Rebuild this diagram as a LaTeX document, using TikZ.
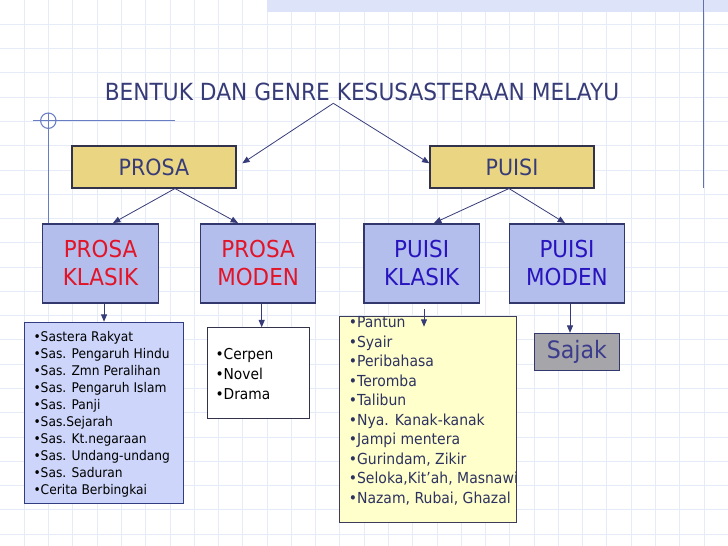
\documentclass[tikz,border=0pt]{standalone}
\usepackage{fontspec}
\setmainfont[FakeStretch=0.92]{DejaVu Sans}
\usetikzlibrary{arrows.meta}
\definecolor{gridc}{RGB}{230,235,248}
\definecolor{bandc}{RGB}{221,228,250}
\definecolor{decoc}{RGB}{105,125,195}
\definecolor{rightc}{RGB}{95,115,170}
\definecolor{titlec}{RGB}{55,60,120}
\definecolor{arrowc}{RGB}{55,60,120}
\definecolor{topfill}{RGB}{234,214,130}
\definecolor{topborder}{RGB}{50,50,75}
\definecolor{midfill}{RGB}{180,190,236}
\definecolor{midborder}{RGB}{50,55,110}
\definecolor{redc}{RGB}{225,20,40}
\definecolor{violetc}{RGB}{40,20,190}
\definecolor{kfill}{RGB}{205,214,250}
\definecolor{kborder}{RGB}{50,60,130}
\definecolor{yfill}{RGB}{255,255,204}
\definecolor{yborder}{RGB}{60,60,90}
\definecolor{ytext}{RGB}{45,50,95}
\definecolor{sfill}{RGB}{165,165,170}
\definecolor{stext}{RGB}{60,60,140}
\newlength\bind
\newcommand\bitem[1]{\hbox to\hsize{\hskip\bind •#1\hss}}
\newcommand\bfirst[2]{\hbox to\hsize{\hskip\bind\rule{0pt}{#1}•#2\hss}}
\begin{document}
\begin{tikzpicture}[x=0.75pt,y=-0.75pt,
  conn/.style={draw=arrowc, line width=0.6pt, -{Triangle[length=5.5pt,width=4.5pt]}},
  topbox/.style={draw=topborder, fill=topfill, line width=0.8pt, minimum width=123pt, minimum height=31.5pt, inner sep=0pt, font=\fontsize{16.8}{20}\selectfont, text=titlec},
  midbox/.style={draw=midborder, fill=midfill, line width=0.8pt, minimum width=86.6pt, minimum height=59.25pt, inner sep=0pt, align=center, font=\fontsize{17.5}{21}\selectfont},
  listbox/.style={line width=0.8pt, inner sep=0pt, anchor=north west}]
\useasboundingbox (0,0) rectangle (728,546);
\fill[white] (0,0) rectangle (728,546);
% grid
\foreach \i in {1,...,29} \draw[gridc, line width=0.5pt] ({\i*24.27},0) -- ({\i*24.27},546);
\foreach \j in {1,...,22} \draw[gridc, line width=0.5pt] (0,{\j*24.27}) -- (728,{\j*24.27});
% decorations
\fill[bandc] (267,0) rectangle (728,11.7);
\draw[rightc, line width=0.8pt] (703.3,0) -- (703.3,188);
\draw[decoc, line width=0.8pt] (33.3,120.7) -- (175,120.7);
\draw[decoc, line width=0.8pt] (48.3,113) -- (48.3,224);
\draw[decoc, line width=0.8pt] (48.3,120.7) circle[radius=7.7];
% title
\node[text=titlec, font=\fontsize{17.7}{21}\selectfont, inner sep=0pt] (title) at (362,91.5) {BENTUK DAN GENRE KESUSASTERAAN MELAYU};
% top boxes
\node[topbox] (prosa) at (154,167) {PROSA};
\node[topbox] (puisi) at (512,167) {PUISI};
% middle boxes
\node[midbox, text=redc] (pk) at (100.5,263.5) {PROSA\\KLASIK};
\node[midbox, text=redc] (pm) at (258.1,263.5) {PROSA\\MODEN};
\node[midbox, text=violetc] (uk) at (421.7,263.5) {PUISI\\KLASIK};
\node[midbox, text=violetc] (um) at (567,263.5) {PUISI\\MODEN};
% lists
\node[listbox, draw=kborder, fill=kfill] (klist) at (24.3,321.7) {\parbox[c][136.2pt][t]{118.8pt}{\fontsize{10}{12.75}\selectfont\setlength\bind{6.5pt}%
\bfirst{14.5pt}{Sastera Rakyat}
\bitem{Sas. Pengaruh Hindu}
\bitem{Sas. Zmn Peralihan}
\bitem{Sas. Pengaruh Islam}
\bitem{Sas. Panji}
\bitem{Sas.Sejarah}
\bitem{Sas. Kt.negaraan}
\bitem{Sas. Undang-undang}
\bitem{Sas. Saduran}
\bitem{Cerita Berbingkai}}};
\node[listbox, draw=topborder, fill=white] (mlist) at (206.7,327.3) {\parbox[c][68.25pt][t]{77pt}{\fontsize{11.25}{14.7}\selectfont\setlength\bind{6.2pt}%
\bfirst{24.1pt}{Cerpen}
\bitem{Novel}
\bitem{Drama}}};
\node[listbox, draw=yborder, fill=yfill, text=ytext] (ulist) at (339.3,315.7) {\parbox[c][155pt][t]{132.5pt}{\fontsize{11.4}{14.6}\selectfont\setlength\bind{6.75pt}%
\bfirst{8.8pt}{Pantun}
\bitem{Syair}
\bitem{Peribahasa}
\bitem{Teromba}
\bitem{Talibun}
\bitem{Nya. Kanak-kanak}
\bitem{Jampi mentera}
\bitem{Gurindam, Zikir}
\bitem{Seloka,Kit’ah, Masnawi}
\bitem{Nazam, Rubai, Ghazal}}};
\node[draw=midborder, fill=sfill, text=stext, line width=0.8pt, minimum width=63.75pt, minimum height=28pt, inner sep=0pt, font=\fontsize{18}{21}\selectfont] (sajak) at (576.8,352) {Sajak};
% connector points
\coordinate (tOut) at (333.3,103.3);
\coordinate (prosaIn) at (242.3,163.3);
\coordinate (puisiIn) at (429.4,163.3);
\coordinate (xp) at (175,0);
\coordinate (xu) at (509,0);
\coordinate (pkIn) at (113,223);
\coordinate (pmIn) at (238,223);
\coordinate (ukIn) at (434,223);
\coordinate (umIn) at (565,223);
\coordinate (xm) at (261.7,0);
\coordinate (xs) at (570,0);
\coordinate (ukOut) at (424,309);
\coordinate (ukEnd) at (424,326.7);
% connectors
\draw[conn] (tOut) -- (prosaIn);
\draw[conn] (tOut) -- (puisiIn);
\draw[conn] (prosa.south -| xp) -- (pkIn);
\draw[conn] (prosa.south -| xp) -- (pmIn);
\draw[conn] (puisi.south -| xu) -- (ukIn);
\draw[conn] (puisi.south -| xu) -- (umIn);
\draw[conn] (klist.north |- pk.south) -- (klist.north);
\draw[conn] (pm.south -| xm) -- (mlist.north -| xm);
\draw[conn] (ukOut) -- (ukEnd);
\draw[conn] (um.south -| xs) -- (sajak.north -| xs);
\end{tikzpicture}
\end{document}
